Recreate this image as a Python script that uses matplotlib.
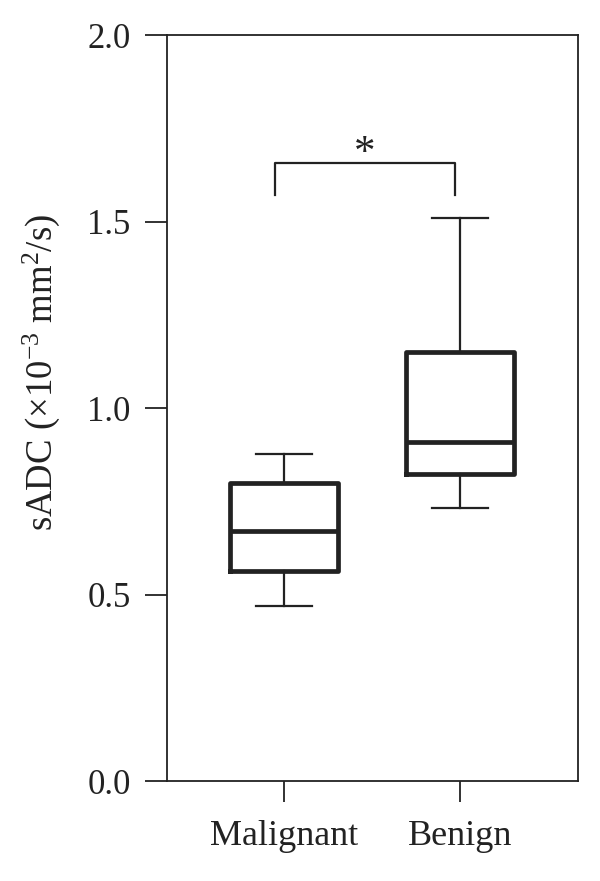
import matplotlib
matplotlib.use('Agg')
import matplotlib.pyplot as plt

plt.rcParams['font.family'] = ['Liberation Serif', 'DejaVu Serif']
plt.rcParams['mathtext.fontset'] = 'custom'
plt.rcParams['mathtext.rm'] = 'Liberation Serif'
plt.rcParams['mathtext.it'] = 'Liberation Serif:italic'

# values (x10^-3 mm^2/s)
groups = ['Malignant', 'Benign']
whislo = [0.469, 0.732]
q1 = [0.563, 0.823]
med = [0.670, 0.909]
q3 = [0.799, 1.150]
whishi = [0.877, 1.509]

col = '#222222'

stats = []
for i in range(len(groups)):
    stats.append(dict(label=groups[i], whislo=whislo[i], q1=q1[i], med=med[i],
                      q3=q3[i], whishi=whishi[i], fliers=[]))

fig = plt.figure(figsize=(6, 8.81), dpi=100)
ax = fig.add_axes([0.278, 0.1135, 0.685, 0.8465])

ax.bxp(stats, positions=[1, 2], widths=0.614, capwidths=0.32, showfliers=False,
       boxprops=dict(color=col, linewidth=3.4),
       medianprops=dict(color=col, linewidth=3.4),
       whiskerprops=dict(color=col, linewidth=1.6),
       capprops=dict(color=col, linewidth=1.6))

ax.set_xlim(0.335, 2.67)
ax.set_ylim(0, 2.0)
ax.set_yticks([0.0, 0.5, 1.0, 1.5, 2.0])
ax.set_yticklabels(['0.0', '0.5', '1.0', '1.5', '2.0'])
ax.set_xticks([1, 2])
ax.set_xticklabels(groups)

for s in ax.spines.values():
    s.set_linewidth(1.3)
    s.set_color(col)
ax.tick_params(axis='both', direction='out', length=16, width=1.3, color=col,
               labelsize=25, labelcolor=col)
ax.tick_params(axis='y', pad=10)
ax.tick_params(axis='x', length=15, pad=13, labelsize=26)

ax.set_ylabel(r'sADC ($\times$10$^{-3}$ mm$^{2}$/s)', fontsize=26.5, color=col)
ax.yaxis.set_label_coords(-0.255, 0.548)

# significance bracket
ax.plot([0.949, 0.949, 1.972, 1.972], [1.571, 1.657, 1.657, 1.571], color=col, linewidth=1.6)
ax.text(1.46, 1.63, '*', ha='center', va='bottom', fontsize=31, color=col)

fig.savefig('out.png', dpi=100)
